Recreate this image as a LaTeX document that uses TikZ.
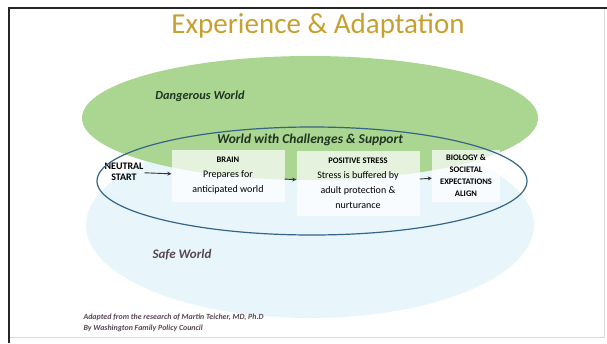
\documentclass[tikz,border=0pt]{standalone}
\usepackage{fontspec}
\setmainfont{Carlito}
\usetikzlibrary{arrows.meta}

\definecolor{titlegold}{RGB}{200,160,50}
\definecolor{dangergreen}{RGB}{170,214,145}
\definecolor{safeblue}{RGB}{232,246,252}
\definecolor{ringblue}{RGB}{52,100,135}
\definecolor{safetext}{RGB}{88,70,84}
\definecolor{darkleaf}{RGB}{32,52,34}

\newcommand\stagehead[1]{{\fontsize{8.5}{9}\selectfont\bfseries #1}}

\tikzset{
  stagebox/.style={fill=white, fill opacity=.7, text opacity=1, align=center,
    inner sep=1pt, font=\fontsize{10}{15}\selectfont},
  worldlabel/.style={font=\fontsize{12.3}{14}\selectfont\bfseries\itshape},
  steparrow/.style={-{Stealth[length=4pt,width=4pt]}, line width=.9pt, black!80}
}

\begin{document}
\begin{tikzpicture}[x=1pt,y=-1pt]
  \useasboundingbox (0,0) rectangle (607,343);
  \fill[white] (0,0) rectangle (607,343);
  \draw[black!15] (9,337) -- (604,337) -- (604,8);
  \draw[line width=2pt, black!85] (9,343) -- (9,8) -- (607,8);

  \node[titlegold, font=\fontsize{29}{32}\selectfont] (title) at (318,26) {Experience \& Adaptation};

  \fill[safeblue] (310,225) ellipse [x radius=224pt, y radius=93pt];
  \fill[dangergreen] (310,118) ellipse [x radius=228pt, y radius=62pt];

  \node[worldlabel, darkleaf] (danger) at (200,96) {Dangerous World};
  \node[worldlabel, safetext, font=\fontsize{13}{15}\selectfont\bfseries\itshape] (safe) at (182,255) {Safe World};

  \node[align=center, inner sep=1pt, font=\fontsize{10}{11.5}\selectfont\bfseries] (neutral) at (124,172) {NEUTRAL\\START};
  \node[stagebox, minimum width=113pt, minimum height=52pt] (brain) at (228,176)
    {\stagehead{BRAIN}\\Prepares for\\anticipated world};
  \node[stagebox, minimum width=123pt, minimum height=65pt] (stress) at (358,183)
    {\stagehead{POSITIVE STRESS}\\Stress is buffered by\\adult protection \&\\nurturance};
  \node[stagebox, minimum width=68pt, minimum height=52pt, font=\fontsize{8.5}{12}\selectfont\bfseries] (align) at (466,176)
    {BIOLOGY \&\\SOCIETAL\\EXPECTATIONS\\ALIGN};

  \foreach \a/\b in {neutral/brain, brain/stress, stress/align}
    \draw[steparrow] (\a) -- (\b);

  \draw[ringblue, line width=1.2pt] (312,181) ellipse [x radius=215pt, y radius=54pt];
  \node[worldlabel, darkleaf, font=\fontsize{13.5}{15}\selectfont\bfseries\itshape] (support) at (310,140) {World with Challenges \& Support};

  \node[anchor=west, align=left, safetext, font=\fontsize{7.9}{11}\selectfont\bfseries\itshape] (credit) at (80,323)
    {Adapted from the research of Martin Teicher, MD, Ph.D\\By Washington Family Policy Council};
\end{tikzpicture}
\end{document}
